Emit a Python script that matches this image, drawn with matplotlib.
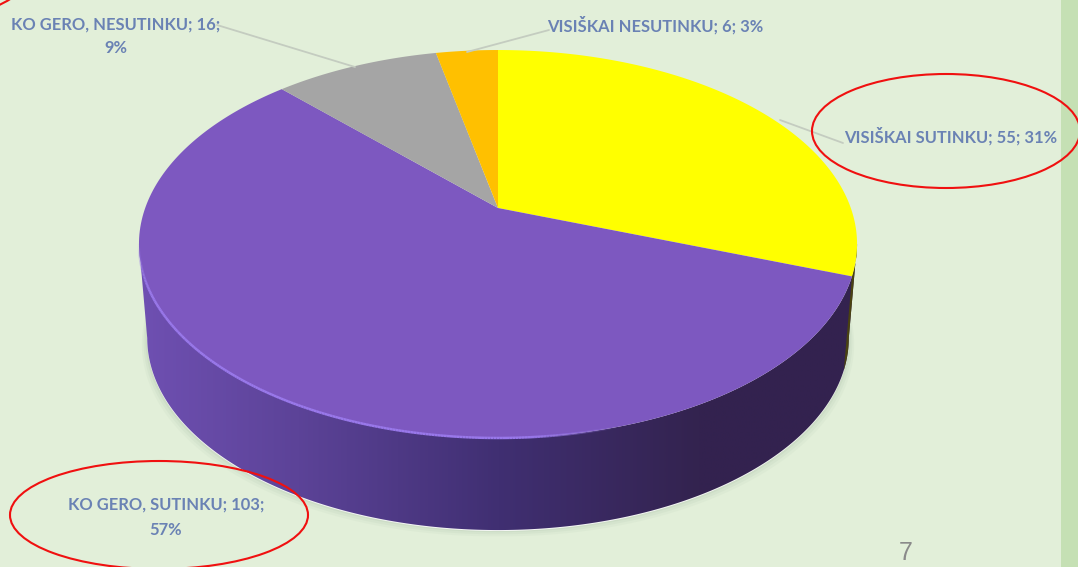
import numpy as np
import matplotlib
matplotlib.use("Agg")
import matplotlib.pyplot as plt
from matplotlib.collections import LineCollection
from matplotlib.patches import Ellipse, Polygon
from matplotlib.colors import LinearSegmentedColormap

categories = ["VISIŠKAI SUTINKU", "KO GERO, SUTINKU", "KO GERO, NESUTINKU", "VISIŠKAI NESUTINKU"]
counts = [55, 103, 16, 6]
percents = [31, 57, 9, 3]
slice_colors = ["#FFFF00", "#7D58C0", "#A5A5A5", "#FFC000"]
page_number = "7"

BG = "#E2EFD9"
STRIP = "#C5E0B4"
TEXT = "#6A82B4"
W, H = 1078, 567

fig = plt.figure(figsize=(W / 100, H / 100), dpi=100, facecolor=BG)
ax = fig.add_axes([0, 0, 1, 1])
ax.axis("off")
ax.axvspan(1061, W, color=STRIP, lw=0, zorder=0)

# perspective projection of the unit disc
CX, CY, K, A, B = 498.0, 208.0, 0.1856, 187.3, 352.8


def top(theta):
    """theta = clockwise angle from 12 o'clock, radians."""
    u, v = np.sin(theta), np.cos(theta)
    d = 1 + K * v
    return CX + B * u / d, CY - A * v / d


def bottom(theta):
    x, y = top(theta)
    return CX + (x - CX) * 0.977, 244 + (y - 244) * 0.99 + 94


edges = np.cumsum([0] + counts) / sum(counts) * 2 * np.pi

wall_purple = LinearSegmentedColormap.from_list(
    "wall", [(0, "#6F50B2"), (0.22, "#5C4398"), (0.5, "#402F72"), (0.78, "#33234F"), (1, "#33224F")])

# soft shadow
th = np.linspace(0, 2 * np.pi, 400)
bx, by = bottom(th)
for grow, alpha in [(9, .05), (6, .07), (3, .09)]:
    ax.add_patch(Polygon(np.c_[bx + np.sign(bx - CX) * grow * .6, by + grow * .7], closed=True,
                         fc="#7F9F80", ec="none", alpha=alpha, zorder=1))
ax.add_patch(Polygon(np.c_[bx, by + 1], closed=True, fc="#F4F6F4", ec="none", zorder=1.5))

# wall: only the part facing the viewer (front half of the drum)
front = np.linspace(np.pi / 2 + np.arcsin(K), 2 * np.pi - np.pi / 2 - np.arcsin(K), 600)
xt, yt = top(front)
xb, yb = bottom(front)
wall_pts = np.r_[np.c_[xt, yt], np.c_[xb, yb][::-1]]
wall_patch = Polygon(wall_pts, closed=True, fc="none", ec="none", transform=ax.transData)
ax.add_patch(wall_patch)
grad = ax.imshow(np.linspace(0, 1, 512)[None, :], extent=(139, 858, 560, 230), cmap=wall_purple,
                 aspect="auto", zorder=2, interpolation="bilinear")
grad.set_clip_path(wall_patch)

# sliver of the yellow slice's wall at the right edge
t = np.linspace(np.pi / 2 + np.arcsin(K), edges[1], 60)
xt, yt = top(t)
xb, yb = bottom(t)
ax.add_patch(Polygon(np.r_[np.c_[xt, yt], np.c_[xb, yb][::-1]], closed=True, fc="#4A4210", ec="none", zorder=2.1))

ax.set_xlim(0, W)
ax.set_ylim(H, 0)

# top face
for i, c in enumerate(slice_colors):
    t = np.linspace(edges[i], edges[i + 1], 200)
    xt, yt = top(t)
    ax.add_patch(Polygon(np.r_[[[CX, CY]], np.c_[xt, yt]], closed=True, fc=c, ec="none", zorder=3))

# bevel highlight along the front rim of the purple slice
t = np.linspace(edges[1], edges[2], 500)
xt, yt = top(t)
pts = np.c_[xt, yt]
segs = np.stack([pts[:-1], pts[1:]], axis=1)
colors = []
for x, y in pts[:-1]:
    if x < 498 and y < 300:
        colors.append((0.60, 0.47, 0.92, float(np.clip((y - 244) / 50, 0, 1))))
    elif x < 530:
        colors.append((0.60, 0.47, 0.92, 1))
    else:
        colors.append((0.60, 0.47, 0.92, float(np.clip(1 - (x - 530) / 90, 0, 1))))
ax.add_collection(LineCollection(segs, colors=colors, linewidths=1.8, zorder=4))

# leader lines
for xs, ys in [((217, 355), (25, 67)), ((549, 467), (30, 52)), ((843, 780), (143, 120))]:
    ax.plot(xs, ys, color="#C4CCC0", lw=1.3, zorder=5, solid_capstyle="round")

# data labels
font = dict(family="Lato", fontweight="bold", color=TEXT, zorder=6)
labels = [f"{c}; {n};" for c, n in zip(categories, counts)]
pct = [f"{p}%" for p in percents]
FS = 11.9
ax.text(951, 136, f"{labels[0]} {pct[0]}", ha="center", va="center", fontsize=FS, **font)
ax.text(166, 517, f"{labels[1]}\n{pct[1]}", ha="center", va="center", fontsize=FS, linespacing=1.7, **font)
ax.text(116, 36, f"{labels[2]}\n{pct[2]}", ha="center", va="center", fontsize=FS, linespacing=1.55, **font)
ax.text(655.5, 25, f"{labels[3]} {pct[3]}", ha="center", va="center", fontsize=FS, **font)

# red annotation ellipses
for (ex, ey, ew, eh) in [(946, 131, 268, 114), (159, 515, 298, 108), (-97, -32, 260, 110)]:
    ax.add_patch(Ellipse((ex, ey), ew, eh, fc="none", ec="#F01010", lw=1.5, zorder=7))

ax.text(906, 553, page_number, ha="center", va="center", fontsize=18, color="#8A8A8A",
        family="Liberation Sans", zorder=6)

fig.savefig("out.png", dpi=100, facecolor=BG)
